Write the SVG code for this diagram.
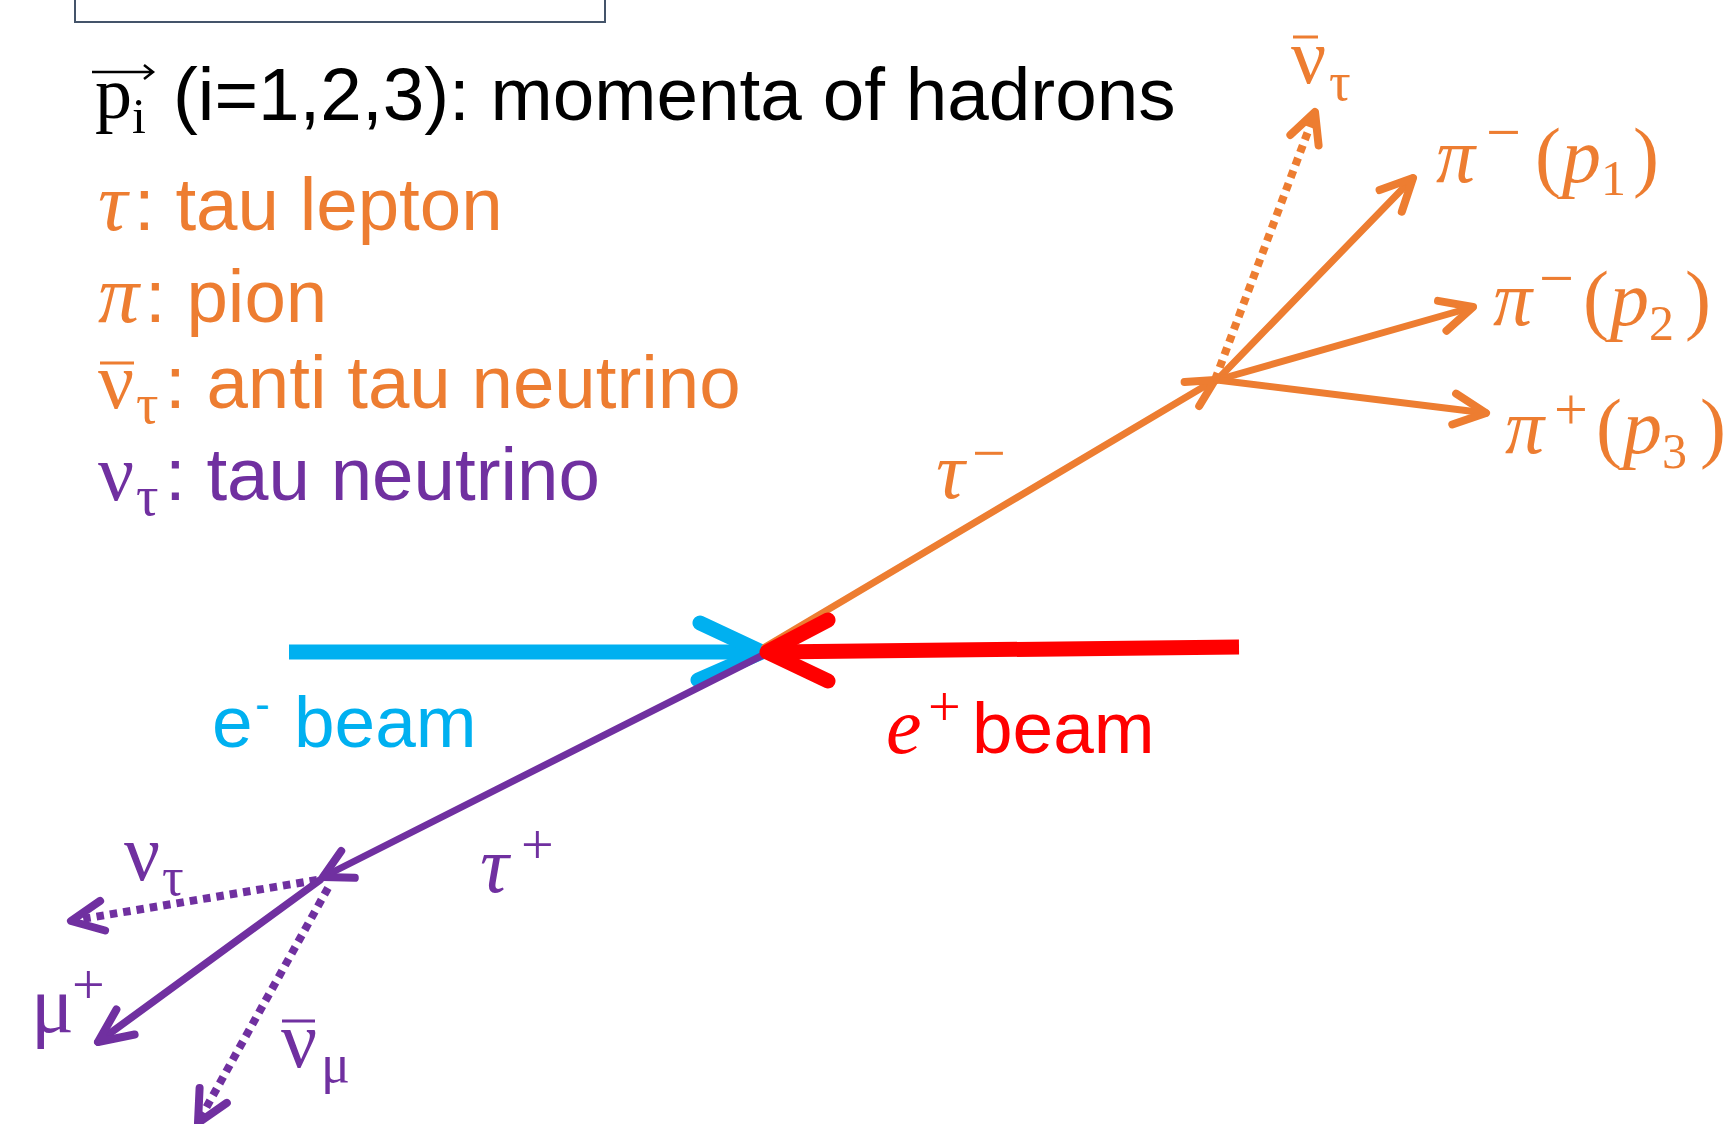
<svg xmlns="http://www.w3.org/2000/svg" width="1730" height="1124" viewBox="0 0 1730 1124">
<style>
.sans{font-family:"Liberation Sans",Arial,sans-serif}
.serif{font-family:"Liberation Serif","Times New Roman",serif}
.it{font-style:italic}
.o{fill:#ED7D31}.p{fill:#7030A0}.b{fill:#00B0F0}.r{fill:#FF0000}.k{fill:#000000}
.so{stroke:#ED7D31}.sp{stroke:#7030A0}.sb{stroke:#00B0F0}.sr{stroke:#FF0000}
.shaft{fill:none;stroke-linecap:round}
.head{fill:none;stroke-linecap:round;stroke-linejoin:round}
.dot{fill:none;stroke-dasharray:7.5 6;stroke-width:8}
.bar{stroke-width:3;fill:none}
</style>
<rect id="topbox" x="75" y="-20" width="530" height="42" fill="#ffffff" stroke="#44546A" stroke-width="2"/>

<g id="connectors">
  <line class="sb" x1="289" y1="652" x2="756" y2="652" stroke-width="15"/>
  <polyline class="head sb" points="700,623 762,652 698,680" stroke-width="15"/>
  <line class="shaft sp" x1="767" y1="653" x2="323" y2="877" stroke-width="7"/>
  <polyline class="head sp" points="341.2,851 323,877 354.8,877.8" stroke-width="8"/>
  <line class="shaft so" x1="765" y1="647" x2="1215" y2="380" stroke-width="7"/>
  <polyline class="head so" points="1199.2,406 1215,380 1184.6,382" stroke-width="8"/>
  <line class="sr" x1="1239" y1="647" x2="772" y2="652" stroke-width="15"/>
  <polyline class="head sr" points="828,620 767,652 828,681" stroke-width="15"/>

  <line class="shaft so" x1="1217" y1="380" x2="1413" y2="178" stroke-width="7"/>
  <polyline class="head so" points="1401.8,211.7 1413,178 1379.6,190.1" stroke-width="8"/>
  <line class="shaft so" x1="1217" y1="380" x2="1473" y2="307" stroke-width="7"/>
  <polyline class="head so" points="1438,300.9 1473,307 1446.5,330.7" stroke-width="8"/>
  <line class="shaft so" x1="1217" y1="380" x2="1486" y2="413" stroke-width="7"/>
  <polyline class="head so" points="1456.1,393.7 1486,413 1452.3,424.5" stroke-width="8"/>
  <line class="dot so" x1="1215" y1="380" x2="1313" y2="118"/>
  <polyline class="head so" points="1290.4,134.9 1315,112 1318.6,145.4" stroke-width="8"/>

  <line class="shaft sp" x1="320" y1="880" x2="98" y2="1042" stroke-width="7.5"/>
  <polyline class="head sp" points="116.4,1009.5 98,1042 134.6,1034.5" stroke-width="8"/>
  <line class="dot sp" x1="317" y1="880" x2="76" y2="920"/>
  <polyline class="head sp" points="100.1,900.9 71,921 105.1,930.5" stroke-width="8"/>
  <line class="dot sp" x1="328" y1="888" x2="201" y2="1117"/>
  <polyline class="head sp" points="199.6,1087.9 198,1123 226.8,1102.9" stroke-width="8"/>
</g>

<g id="title">
  <text class="serif k" x="95" y="118" font-size="74">p</text>
  <text class="serif k" x="132" y="133" font-size="50">i</text>
  <path d="M92,72 H153 M144,65 L153,72 L144,79" fill="none" stroke="#000" stroke-width="2.5"/>
  <text class="sans k" x="173" y="120" font-size="74.7">(i=1,2,3): momenta of hadrons</text>
</g>

<g id="legend">
  <text class="serif it o" x="98" y="230" font-size="82">τ</text>
  <text class="sans o" x="134" y="230" font-size="74.5">: tau lepton</text>
  <text class="serif it o" x="98" y="322" font-size="82">π</text>
  <text class="sans o" x="145" y="322" font-size="74.5">: pion</text>
  <text class="serif o" font-size="80"><tspan x="98" y="408">ν</tspan><tspan x="136" y="423" font-size="56">τ</tspan></text>
  <line class="bar so" x1="100" y1="363" x2="134" y2="363"/>
  <text class="sans o" x="165" y="408" font-size="74.5">: anti tau neutrino</text>
  <text class="serif p" font-size="80"><tspan x="98" y="500">ν</tspan><tspan x="136" y="515" font-size="56">τ</tspan></text>
  <text class="sans p" x="165" y="500" font-size="74.5">: tau neutrino</text>
</g>

<g id="node-antinu-tau">
  <text class="serif o" font-size="78"><tspan x="1291" y="83">ν</tspan><tspan x="1329" y="100" font-size="54">τ</tspan></text>
  <line class="bar so" x1="1293" y1="37" x2="1318" y2="37"/>
</g>
<g id="node-pi1">
  <text class="serif o" font-size="78"><tspan class="it" x="1436" y="182">π</tspan><tspan x="1486" y="153" font-size="62">−</tspan><tspan x="1535" y="182">(</tspan><tspan class="it" x="1562" y="182">p</tspan><tspan x="1601" y="195" font-size="50">1</tspan><tspan x="1633" y="182">)</tspan></text>
</g>
<g id="node-pi2">
  <text class="serif o" font-size="78"><tspan class="it" x="1493" y="325">π</tspan><tspan x="1539" y="299" font-size="62">−</tspan><tspan x="1583" y="325">(</tspan><tspan class="it" x="1610" y="325">p</tspan><tspan x="1649" y="340" font-size="50">2</tspan><tspan x="1685" y="325">)</tspan></text>
</g>
<g id="node-pi3">
  <text class="serif o" font-size="78"><tspan class="it" x="1505" y="453">π</tspan><tspan x="1554" y="429" font-size="60">+</tspan><tspan x="1596" y="453">(</tspan><tspan class="it" x="1623" y="453">p</tspan><tspan x="1662" y="468" font-size="50">3</tspan><tspan x="1700" y="453">)</tspan></text>
</g>
<g id="node-tau-minus">
  <text class="serif o" font-size="80"><tspan class="it" x="936" y="498">τ</tspan><tspan x="972" y="473" font-size="60">−</tspan></text>
</g>
<g id="node-e-minus-beam">
  <text class="sans b" font-size="73"><tspan x="212" y="747">e</tspan><tspan x="255" y="719" font-size="44">-</tspan><tspan x="294" y="747">beam</tspan></text>
</g>
<g id="node-e-plus-beam">
  <text class="serif it r" x="886" y="753" font-size="80">e</text>
  <text class="serif r" x="928" y="726" font-size="58">+</text>
  <text class="sans r" x="972" y="753" font-size="73">beam</text>
</g>
<g id="node-tau-plus">
  <text class="serif p" font-size="80"><tspan class="it" x="480" y="892">τ</tspan><tspan x="521" y="864" font-size="58">+</tspan></text>
</g>
<g id="node-nu-tau">
  <text class="serif p" font-size="80"><tspan x="124" y="880">ν</tspan><tspan x="162" y="895" font-size="54">τ</tspan></text>
</g>
<g id="node-mu-plus">
  <text class="serif p" font-size="80"><tspan x="31" y="1032">μ</tspan><tspan x="72" y="1004" font-size="58">+</tspan></text>
</g>
<g id="node-antinu-mu">
  <text class="serif p" font-size="80"><tspan x="281" y="1067">ν</tspan><tspan x="321" y="1082" font-size="54">μ</tspan></text>
  <line class="bar sp" x1="282" y1="1021" x2="315" y2="1021"/>
</g>
</svg>
